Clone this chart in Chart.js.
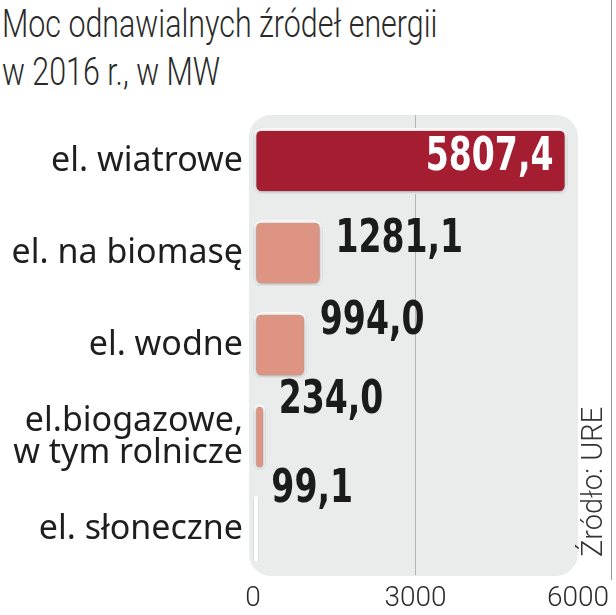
<!DOCTYPE html>
<html>
<head>
<meta charset="utf-8">
<script src="https://cdn.jsdelivr.net/npm/chart.js@4/dist/chart.umd.min.js"></script>
<style>
  html, body { margin: 0; padding: 0; background: #fff; }
  #wrap { position: relative; width: 616px; height: 615px; overflow: hidden; }
  #title {
    position: absolute; left: 2px; top: 0px;
    font-family: Roboto, "Noto Sans", sans-serif; font-weight: 300;
    font-size: 38px; line-height: 48px; color: #2a2a2a;
    white-space: nowrap; transform-origin: 0 0; transform: scaleX(0.8);
  }
  #edge { position: absolute; left: 611px; top: 0; width: 1px; height: 580px; background: #9a9a9a; }
  canvas { position: absolute; left: 0; top: 0; }
</style>
</head>
<body>
<div id="wrap">
  <div id="title">Moc odnawialnych źródeł energii<br>w 2016 r., w MW</div>
  <div id="edge"></div>
  <canvas id="chart" width="616" height="615"></canvas>
</div>
<script>
// data
const categories = ['el. wiatrowe', 'el. na biomasę', 'el. wodne', ['el.biogazowe,', 'w tym rolnicze'], 'el. słoneczne'];
const capacity = [5807.4, 1281.1, 994.0, 234.0, 99.1];
const valueLabels = ['5807,4', '1281,1', '994,0', '234,0', '99,1'];
const xTicks = [0, 3000, 6000];
const barColors = ['#a51d31', '#dd9482', '#dd9482', '#dd9482', '#dd9482'];

// how far each outside label sits above its bar centre
const labelLift = [-3, -13, -23, -36, -39];

const backdrop = {
    id: 'backdrop',
    beforeDraw(chart) {
        const { ctx, chartArea } = chart;
        const l = chartArea.left - 4, t = chartArea.top, r = chartArea.right, b = chartArea.bottom + 1;
        ctx.save();
        ctx.fillStyle = '#eaebeb';
        ctx.beginPath();
        ctx.roundRect(l, t, r - l, b - t, 22);
        ctx.fill();
        ctx.restore();
    },
    beforeDatasetsDraw(chart) {
        const ctx = chart.ctx;
        ctx.save();
        ctx.shadowColor = 'rgba(0,0,0,0.45)';
        ctx.shadowBlur = 4;
        ctx.shadowOffsetX = 0;
        ctx.shadowOffsetY = 1;
    },
    afterDatasetsDraw(chart) {
        const ctx = chart.ctx;
        ctx.restore();
        const bars = chart.getDatasetMeta(0).data;
        const squeeze = 0.8;
        bars.forEach((bar, i) => {
            ctx.save();
            ctx.font = 'bold 46px "Liberation Sans Narrow", "DejaVu Sans Condensed", "DejaVu Sans", sans-serif';
            ctx.textBaseline = 'middle';
            if (i === 0) {
                ctx.translate(bar.x - 14, bar.y + labelLift[i]);
                ctx.fillStyle = '#ffffff';
                ctx.textAlign = 'right';
            } else {
                ctx.translate(bar.x + 13, bar.y + labelLift[i]);
                ctx.fillStyle = '#1b1b1b';
                ctx.textAlign = 'left';
            }
            ctx.scale(squeeze, 1);
            ctx.fillText(valueLabels[i], 0, 0);
            ctx.restore();
        });
        // source note
        ctx.save();
        ctx.translate(595, 557);
        ctx.rotate(-Math.PI / 2);
        ctx.font = '300 29px Roboto, "Noto Sans", sans-serif';
        ctx.fillStyle = '#333';
        ctx.textAlign = 'left';
        ctx.textBaseline = 'middle';
        ctx.fillText('Źródło: URE', 0, 0);
        ctx.restore();
    }
};

new Chart(document.getElementById('chart').getContext('2d'), {
    type: 'bar',
    data: {
        labels: categories,
        datasets: [{
            data: capacity,
            backgroundColor: barColors,
            borderColor: '#ffffff',
            borderWidth: 3,
            borderRadius: 8,
            borderSkipped: false,
            barPercentage: 0.72,
            categoryPercentage: 1
        }]
    },
    options: {
        indexAxis: 'y',
        responsive: false,
        animation: false,
        layout: { padding: { top: 115, right: 37, bottom: 0, left: 0 } },
        plugins: {
            legend: { display: false },
            tooltip: { enabled: false }
        },
        scales: {
            x: {
                min: 0,
                max: 6000,
                afterBuildTicks: (scale) => { scale.ticks = xTicks.map(v => ({ value: v })); },
                afterFit: (scale) => { scale.height = 40; },
                border: { display: false },
                grid: {
                    color: (c) => c.tick && c.tick.value === 3000 ? '#b4b4b4' : 'rgba(0,0,0,0)',
                    drawTicks: false,
                    lineWidth: 1
                },
                ticks: {
                    padding: 7,
                    color: '#2a2a2a',
                    callback: (v) => String(v),
                    font: { family: 'Roboto, "Noto Sans", sans-serif', size: 28, weight: 300 }
                }
            },
            y: {
                afterFit: (scale) => { scale.width = 253; },
                border: { display: false },
                grid: { display: false },
                ticks: {
                    padding: 2,
                    color: '#1e1e1e',
                    font: { family: '"Noto Sans", sans-serif', size: 34, lineHeight: 0.95 }
                }
            }
        }
    },
    plugins: [backdrop]
});
</script>
</body>
</html>
